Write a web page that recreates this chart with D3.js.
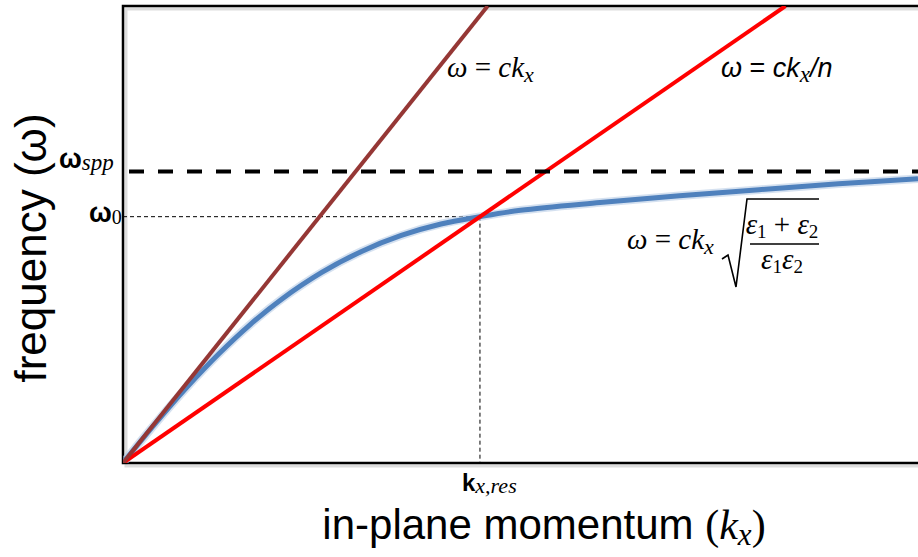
<!DOCTYPE html>
<html>
<head>
<meta charset="utf-8">
<script src="https://cdn.jsdelivr.net/npm/d3@7"></script>
<style>
  body { margin: 0; background: #fff; }
  svg { display: block; }
</style>
</head>
<body>
<div id="chart"></div>
<script>
// in-plane momentum (arbitrary units) and SPP dispersion
var kx       = [0, 0.4, 0.8, 1.2, 1.6, 2.0, 2.5, 3.0, 3.5, 4.0, 4.49, 5, 6, 7, 8, 9, 10];
var omegaSpp = [0, 0.85, 1.65, 2.38, 3.03, 3.59, 4.17, 4.63, 4.98, 5.23, 5.39, 5.53, 5.70, 5.85, 5.98, 6.11, 6.22];

var lightSlope  = 2.18;   // omega = c kx
var mediumSlope = 1.20;   // omega = c kx / n
var omegaSurf   = 6.38;   // omega_spp asymptote
var omega0      = 5.39;
var kRes        = 4.49;

var width = 918, height = 557;
var margin = { left: 123, top: 6, bottom: 463 };

var x = d3.scaleLinear().domain([0, 10]).range([margin.left, width]);
var y = d3.scaleLinear().domain([0, 10]).range([margin.bottom, margin.top]);

var svg = d3.select("#chart").append("svg")
    .attr("width", width)
    .attr("height", height);

svg.append("clipPath").attr("id", "plot")
  .append("rect")
    .attr("x", margin.left).attr("y", margin.top)
    .attr("width", width - margin.left).attr("height", margin.bottom - margin.top);

// frame with a soft shadow
var frame = svg.append("g");
frame.append("path")
    .attr("d", "M" + (width + 5) + "," + (margin.top + 3) + "H" + (margin.left + 3) + "V" + (margin.bottom + 3) + "H" + (width + 5))
    .attr("fill", "none").attr("stroke", "#dddddd").attr("stroke-width", 3);
frame.append("path")
    .attr("d", "M" + (width + 5) + "," + margin.top + "H" + margin.left + "V" + margin.bottom + "H" + (width + 5))
    .attr("fill", "none").attr("stroke", "#000").attr("stroke-width", 2.5);

var plot = svg.append("g").attr("clip-path", "url(#plot)");

// thin guides at omega0 / k_res
plot.append("line")
    .attr("x1", x(0)).attr("x2", x(kRes))
    .attr("y1", y(omega0)).attr("y2", y(omega0))
    .attr("stroke", "#000").attr("stroke-width", 1).attr("stroke-dasharray", "4,3");
plot.append("line")
    .attr("x1", x(kRes)).attr("x2", x(kRes))
    .attr("y1", y(omega0)).attr("y2", y(0))
    .attr("stroke", "#000").attr("stroke-width", 1).attr("stroke-dasharray", "4,3");

// SPP dispersion curve
var pts = kx.map(function(k, i) { return [k, omegaSpp[i]]; });
var curve = d3.line()
    .x(function(d) { return x(d[0]); })
    .y(function(d) { return y(d[1]); })
    .curve(d3.curveCatmullRom.alpha(0.5));

plot.append("path")
    .datum(pts)
    .attr("d", curve)
    .attr("fill", "none").attr("stroke", "#b9cde6").attr("stroke-width", 8.5).attr("opacity", 0.6);
plot.append("path")
    .datum(pts)
    .attr("d", curve)
    .attr("fill", "none").attr("stroke", "#4f81bd").attr("stroke-width", 5);

// straight light lines
plot.append("path")
    .datum([0, 10 / mediumSlope])
    .attr("d", d3.line().x(function(d) { return x(d); }).y(function(d) { return y(d * mediumSlope); }))
    .attr("fill", "none").attr("stroke", "#ff0000").attr("stroke-width", 4);

plot.append("path")
    .datum([0, 10 / lightSlope])
    .attr("d", d3.line().x(function(d) { return x(d); }).y(function(d) { return y(d * lightSlope); }))
    .attr("fill", "none").attr("stroke", "#953735").attr("stroke-width", 4);

// surface plasmon frequency
plot.append("line")
    .attr("x1", x(0) + 6).attr("x2", x(10))
    .attr("y1", y(omegaSurf)).attr("y2", y(omegaSurf))
    .attr("stroke", "#000").attr("stroke-width", 4).attr("stroke-dasharray", "15,14");

var sans = "Liberation Sans, Arial, sans-serif";
var serif = "Liberation Serif, serif";

// axis titles
var xt = svg.append("text")
    .attr("x", 544).attr("y", 539)
    .attr("text-anchor", "middle")
    .style("font-family", sans)
    .style("font-size", "42px");
xt.append("tspan").text("in-plane momentum ");
xt.append("tspan").style("font-family", serif).text("(");
xt.append("tspan").style("font-family", serif).style("font-style", "italic").text("k");
xt.append("tspan").style("font-family", serif).style("font-style", "italic")
    .style("font-size", "31px").attr("dy", 6).text("x");
xt.append("tspan").style("font-family", serif).attr("dy", -6).text(")");

svg.append("text")
    .attr("transform", "translate(46,248) rotate(-90)")
    .attr("text-anchor", "middle")
    .style("font-family", sans)
    .style("font-size", "44px")
    .text("frequency (ω)");

// tick-style labels
var wspp = svg.append("text").attr("x", 59).attr("y", 168);
wspp.append("tspan")
    .style("font-family", sans)
    .style("font-weight", "bold").style("font-size", "27px")
    .text("ω");
wspp.append("tspan")
    .style("font-family", serif)
    .style("font-style", "italic").style("font-size", "23px")
    .attr("dy", 2)
    .text("spp");

var w0 = svg.append("text").attr("x", 89).attr("y", 222);
w0.append("tspan")
    .style("font-family", sans)
    .style("font-weight", "bold").style("font-size", "27px")
    .text("ω");
w0.append("tspan")
    .style("font-family", serif)
    .style("font-size", "20px")
    .attr("dy", 2)
    .text("0");

var kr = svg.append("text").attr("x", 462).attr("y", 491);
kr.append("tspan")
    .style("font-family", sans)
    .style("font-weight", "bold").style("font-size", "24px")
    .text("k");
kr.append("tspan")
    .style("font-family", serif)
    .style("font-style", "italic").style("font-size", "22px")
    .attr("dy", 2)
    .text("x,res");

// line labels
var l1 = svg.append("text").attr("x", 447).attr("y", 77)
    .style("font-family", serif).style("font-size", "29px");
l1.append("tspan").style("font-style", "italic").text("ω");
l1.append("tspan").text(" = ");
l1.append("tspan").style("font-style", "italic").text("ck");
l1.append("tspan").style("font-style", "italic").style("font-size", "22px").attr("dy", 5).text("x");

var l2 = svg.append("text").attr("x", 721).attr("y", 77)
    .style("font-family", sans).style("font-size", "27px");
l2.append("tspan").style("font-style", "italic").text("ω");
l2.append("tspan").text(" = ");
l2.append("tspan").style("font-style", "italic").text("ck");
l2.append("tspan").style("font-family", serif).style("font-style", "italic")
    .style("font-size", "23px").attr("dy", 5).text("x");
l2.append("tspan").style("font-style", "italic").attr("dy", -5).text("/n");

var l3 = svg.append("text").attr("x", 627).attr("y", 249)
    .style("font-family", serif).style("font-size", "29px");
l3.append("tspan").style("font-style", "italic").text("ω");
l3.append("tspan").text(" = ");
l3.append("tspan").style("font-style", "italic").text("ck");
l3.append("tspan").style("font-style", "italic").style("font-size", "22px").attr("dy", 5).text("x");

svg.append("path")
    .attr("d", "M722,259L728,255L736,287L747,199H819")
    .attr("fill", "none").attr("stroke", "#000").attr("stroke-width", 1.6);
svg.append("line")
    .attr("x1", 750).attr("x2", 819).attr("y1", 244).attr("y2", 244)
    .attr("stroke", "#000").attr("stroke-width", 1.4);

var num = svg.append("text").attr("x", 782).attr("y", 234).attr("text-anchor", "middle")
    .style("font-family", serif).style("font-size", "29px");
num.append("tspan").style("font-style", "italic").text("ε");
num.append("tspan").style("font-size", "19px").attr("dy", 4).text("1");
num.append("tspan").attr("dy", -4).text(" + ");
num.append("tspan").style("font-style", "italic").text("ε");
num.append("tspan").style("font-size", "19px").attr("dy", 4).text("2");

var den = svg.append("text").attr("x", 782).attr("y", 269).attr("text-anchor", "middle")
    .style("font-family", serif).style("font-size", "29px");
den.append("tspan").style("font-style", "italic").text("ε");
den.append("tspan").style("font-size", "19px").attr("dy", 4).text("1");
den.append("tspan").style("font-style", "italic").attr("dy", -4).text("ε");
den.append("tspan").style("font-size", "19px").attr("dy", 4).text("2");
</script>
</body>
</html>
